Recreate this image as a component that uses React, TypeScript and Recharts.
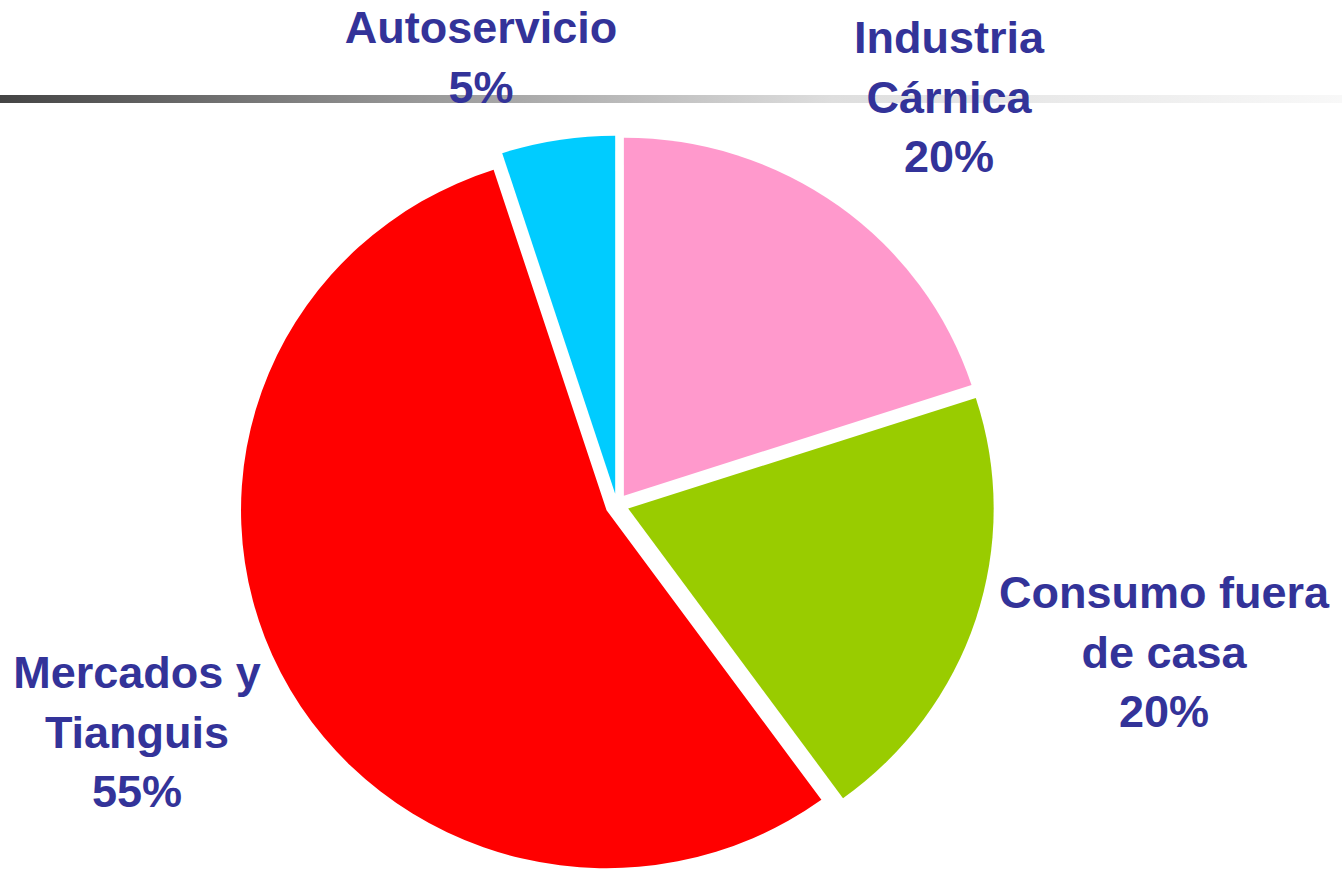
import { Pie, PieChart, Sector, Cell } from "recharts";

const categories = ["Industria Cárnica", "Consumo fuera de casa", "Mercados y Tianguis", "Autoservicio"];
const shares = [20, 20, 55, 5];
const labelLines = [
  ["Industria", "Cárnica", "20%"],
  ["Consumo fuera", "de casa", "20%"],
  ["Mercados y", "Tianguis", "55%"],
  ["Autoservicio", "5%"],
];
const colors = ["#FF99CC", "#99CC00", "#FF0000", "#00CCFF"];

const data = categories.map((name, i) => ({ name, value: shares[i] }));

const RAD = Math.PI / 180;
const EXPLODE = 11.5;
const STRETCH_X = 1.021; // original pie is a touch wider than tall
const TEXT = "#333399";
const LINE_H = 59.5;

// label block anchors, relative to pie centre (x centre, first baseline)
const labelAnchor: Record<number, { dx: number; dy: number }> = {
  0: { dx: 332, dy: -452 },
  1: { dx: 547, dy: 103 },
  2: { dx: -480, dy: 183 },
  3: { dx: -136, dy: -462 },
};

function ExplodedSector(props: any) {
  const { cx, cy, midAngle } = props;
  const ox = Math.cos(-midAngle * RAD) * EXPLODE;
  const oy = Math.sin(-midAngle * RAD) * EXPLODE;
  return (
    <g transform={`translate(${cx} ${cy}) scale(${STRETCH_X} 1) translate(${-cx} ${-cy})`}>
      <Sector {...props} cx={cx + ox} cy={cy + oy} stroke="none" />
    </g>
  );
}

function SliceLabel(props: any) {
  const { cx, cy, index } = props;
  const a = labelAnchor[index];
  const lines = labelLines[index];
  return (
    <text
      x={cx + a.dx}
      y={cy + a.dy}
      textAnchor="middle"
      fill={TEXT}
      fontFamily='"Liberation Sans", Arial, sans-serif'
      fontWeight="bold"
      fontSize={45}
    >
      {lines.map((l, i) => (
        <tspan key={i} x={cx + a.dx} dy={i === 0 ? 0 : LINE_H}>
          {l}
        </tspan>
      ))}
    </text>
  );
}

export default function App() {
  return (
    <div style={{ position: "absolute", left: 0, top: 0, width: 1342, height: 869, background: "#fff" }}>
      <div
        style={{
          position: "absolute",
          left: 0,
          top: 95,
          width: 1342,
          height: 8,
          background: "linear-gradient(to right, #444444 0%, #959595 30%, #dedede 62%, #f8f8f8 100%)",
        }}
      />
      <div style={{ position: "absolute", left: 0, top: 0 }}>
        <PieChart width={1342} height={869} margin={{ top: 0, right: 0, bottom: 0, left: 0 }}>
          <Pie
            data={data}
            dataKey="value"
            nameKey="name"
            cx={617}
            cy={505}
            outerRadius={358}
            startAngle={90}
            endAngle={-270}
            stroke="none"
            isAnimationActive={false}
            shape={ExplodedSector}
            label={SliceLabel}
            labelLine={false}
          >
            {data.map((d, i) => (
              <Cell key={d.name} fill={colors[i]} />
            ))}
          </Pie>
        </PieChart>
      </div>
    </div>
  );
}
